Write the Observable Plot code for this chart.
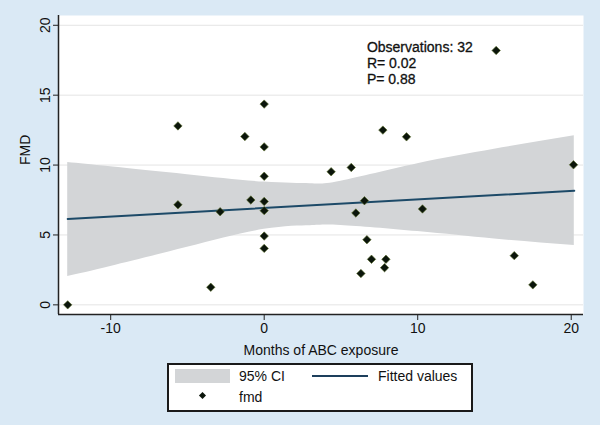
<!DOCTYPE html>
<html><head><meta charset="utf-8">
<script src="https://cdn.jsdelivr.net/npm/d3@7"></script>
<script src="https://cdn.jsdelivr.net/npm/@observablehq/plot@0.6"></script>
<style>
html,body{margin:0;padding:0;}
body{width:600px;height:425px;background:#dae9f5;position:relative;overflow:hidden;font-family:"Liberation Sans",Arial,sans-serif;color:#111;}
#chart{position:absolute;left:0;top:0;}
#legend{position:absolute;left:167px;top:363px;width:302px;height:45px;border:2px solid #1a1a1a;background:#fff;font-size:14px;}
#legend div{position:absolute;}
.lt{line-height:16px;white-space:nowrap;}
</style>
</head><body>
<div id="chart"></div>
<div id="legend">
  <div style="left:6px;top:4px;width:55px;height:14px;background:#d3d5d7;"></div>
  <div class="lt" id="l1" style="left:70px;top:3px;"></div>
  <div style="left:143px;top:10px;width:56px;height:2px;background:#1d3f5c;"></div>
  <div class="lt" id="l2" style="left:209px;top:3px;"></div>
  <div style="left:31px;top:28px;width:5px;height:5px;background:#0b150b;transform:rotate(45deg);"></div>
  <div class="lt" id="l3" style="left:70px;top:24px;"></div>
</div>
<script>
// Scatter data: months of ABC exposure (x) and FMD (y)
const monthsX = [-12.8, -5.62, -1.26, 0, 0, 0, -0.87, 0, 0, -5.62, -2.87, 0, 0, -3.48,
  15.11, 7.73, 9.27, 4.36, 5.67, 20.15, 6.53, 5.97, 10.31, 6.69, 6.99, 7.93, 7.84, 6.3, 16.29, 17.5];
const fmdY = [0.0, 12.8, 12.04, 14.36, 11.3, 9.2, 7.5, 7.4, 6.74, 7.16, 6.66, 4.92, 4.04, 1.26,
  18.2, 12.5, 12.02, 9.52, 9.83, 10.02, 7.45, 6.57, 6.86, 4.66, 3.26, 3.26, 2.66, 2.24, 3.52, 1.43];
// 95% CI band
const ciX = [-12.8, -10, -5, 0, 3, 5, 10, 15, 20.2];
const ciUpper = [10.19, 9.88, 9.31, 8.78, 8.66, 8.85, 10.1, 11.14, 12.1];
const ciLower = [2.03, 2.75, 4.12, 5.4, 5.66, 5.68, 5.24, 4.71, 4.24];
// Fitted values
const fitX = [-12.8, 20.2];
const fitY = [6.15, 8.16];
// Axes
const xTicks = [-10, 0, 10, 20];
const yTicks = [0, 5, 10, 15, 20];
const xDomain = [-13.4, 20.8];
const yDomain = [-0.69, 20.7];
const xLabel = "Months of ABC exposure";
const yLabel = "FMD";
const annotation = ["Observations: 32", "R= 0.02", "P= 0.88"];
const legendLabels = ["95% CI", "Fitted values", "fmd"];
const annX = 6.69, annY = 18.95;

const pts = monthsX.map((x, i) => ({x, y: fmdY[i]}));
const ci = ciX.map((x, i) => ({x, lo: ciLower[i], hi: ciUpper[i]}));
const fit = fitX.map((x, i) => ({x, y: fitY[i]}));
const fmt = d => String(d);

const chart = Plot.plot({
  width: 600, height: 358,
  marginLeft: 58, marginRight: 17, marginTop: 15, marginBottom: 44,
  style: {fontFamily: "Liberation Sans, Arial, sans-serif", fontSize: "14px", color: "#111", background: "transparent"},
  x: {domain: xDomain},
  y: {domain: yDomain},
  marks: [
    Plot.frame({fill: "white", stroke: null}),
    Plot.gridY(yTicks, {stroke: "#e4e4e4", strokeOpacity: 1}),
    Plot.areaY(ci, {x: "x", y1: "lo", y2: "hi", fill: "#d3d5d7", curve: "natural"}),
    Plot.line(fit, {x: "x", y: "y", stroke: "#1d4a68", strokeWidth: 2}),
    Plot.dot(pts, {x: "x", y: "y", symbol: "diamond2", r: 3.8, fill: "#0b150b", stroke: "#5a6e2a", strokeWidth: 0.6}),
    Plot.text([annotation.join("\n")], {x: () => annX, y: () => annY, textAnchor: "start", lineAnchor: "top", lineHeight: 1.17, fontSize: 14, fill: "#111", stroke: "#111", strokeWidth: 0.3, text: d => d}),
    Plot.ruleX([xDomain[0]], {stroke: "#222", strokeWidth: 1.5}),
    Plot.ruleY([yDomain[0]], {stroke: "#222", strokeWidth: 1.5}),
    Plot.axisX({ticks: xTicks, tickFormat: fmt, tickSize: 6, tickPadding: 3, fontSize: 14, label: null, stroke: "#222"}),
    Plot.axisY({ticks: yTicks, tickFormat: fmt, tickSize: 5, tickPadding: 4, tickRotate: -90, fontSize: 14, label: null, stroke: "#222"}),
    Plot.text([xLabel], {frameAnchor: "bottom", dy: 40, lineAnchor: "bottom", fontSize: 14, fill: "#111", text: d => d}),
    Plot.text([yLabel], {frameAnchor: "left", dx: -33, rotate: -90, lineAnchor: "middle", fontSize: 14, fill: "#111", text: d => d})
  ]
});
document.getElementById("chart").appendChild(chart);
document.getElementById("l1").textContent = legendLabels[0];
document.getElementById("l2").textContent = legendLabels[1];
document.getElementById("l3").textContent = legendLabels[2];
</script>
</body></html>
